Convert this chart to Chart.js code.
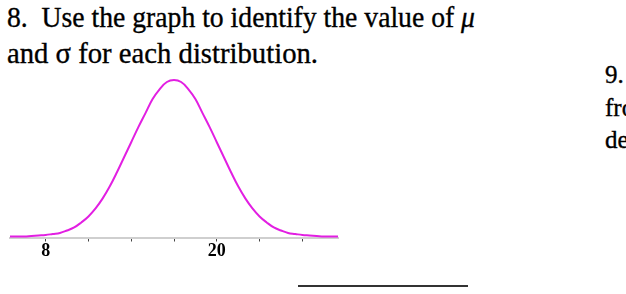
<!DOCTYPE html>
<html>
<head>
<meta charset="utf-8">
<script src="https://cdn.jsdelivr.net/npm/chart.js@4"></script>
<style>
  html, body { margin: 0; padding: 0; background: #fff; }
  body { width: 626px; height: 294px; overflow: hidden; position: relative; font-family: "Liberation Serif", serif; color: #000; }
  .txt { position: absolute; white-space: pre; transform-origin: 0 0; -webkit-text-stroke: 0.35px #000; }
  #plot { position: absolute; left: 0; top: 60px; }
  #rule { position: absolute; left: 298px; top: 285px; width: 170px; height: 2px; background: #333; }
</style>
</head>
<body>
<div class="txt" id="q8a">8.&nbsp; Use the graph to identify the value of <i>μ</i></div>
<div class="txt" id="q8b">and σ for each distribution.</div>
<div class="txt" id="q9a">9. Use</div>
<div class="txt" id="q9b">from</div>
<div class="txt" id="q9c">des</div>
<canvas id="plot" width="360" height="220"></canvas>
<div id="rule"></div>
<script>
// Curve (height above the axis, peak = 157)
const xValues = [5.5, 6, 6.5, 7, 7.5, 8, 8.5, 9, 9.5, 10, 10.5, 11, 11.5, 12, 12.5, 13, 13.5, 14, 14.5, 15, 15.5, 16, 16.5, 17,
                 17.5, 18, 18.5, 19, 19.5, 20, 20.5, 21, 21.5, 22, 22.5, 23, 23.5, 24, 24.5, 25, 25.5, 26, 26.5, 27, 27.5, 28, 28.5];
const heights = [1, 1, 1, 1.5, 2, 2.5, 3.5, 4.5, 7, 10, 15, 21, 29, 39, 51, 65, 80, 95, 110, 124, 138, 148, 155, 157,
                 155, 148, 138, 124, 110, 95, 80, 65, 51, 39, 29, 21, 15, 10, 7, 4.5, 3.5, 2.5, 2, 1.5, 1, 1, 1];
const tickValues = [8, 11, 14, 17, 20, 23, 26];
const tickLabels = ['8', '', '', '', '20', '', ''];

// place a text line: left, baseline, font size, target width
function place(id, left, baseline, size, width) {
    const el = document.getElementById(id);
    el.style.fontSize = size + 'px';
    el.style.lineHeight = size + 'px';
    el.style.left = left + 'px';
    el.style.top = (baseline - 0.891 * size - (size - 1.107 * size) / 2) + 'px';
    if (width) {
        const w = el.getBoundingClientRect().width;
        el.style.transform = 'scaleX(' + (width / w) + ')';
    }
}
place('q8a', 6.5, 26.7, 30, 468);
place('q8b', 6.5, 62.7, 30, 311);
place('q9a', 605, 83, 25);
place('q9b', 605, 115.5, 25);
place('q9c', 605, 148, 25);

new Chart("plot", {
    type: "line",
    data: {
        datasets: [{
            data: xValues.map((x, i) => ({ x: x, y: heights[i] })),
            borderColor: '#e21fe2',
            borderWidth: 2,
            pointRadius: 0,
            tension: 0.4,
            clip: false
        }]
    },
    options: {
        responsive: false,
        animation: false,
        layout: { padding: { left: 10, right: 22, top: 20, bottom: 0 } },
        plugins: {
            legend: { display: false },
            tooltip: { enabled: false }
        },
        scales: {
            x: {
                type: 'linear',
                min: 5.5,
                max: 28.5,
                afterBuildTicks: (axis) => { axis.ticks = tickValues.map(v => ({ value: v })); },
                afterFit: (scale) => { scale.height = 42.5; },
                ticks: {
                    autoSkip: false,
                    maxRotation: 0,
                    padding: -1,
                    color: '#000',
                    font: { family: 'Liberation Serif', size: 18, weight: 'bold' },
                    callback: (value) => tickLabels[tickValues.indexOf(value)]
                },
                grid: {
                    drawOnChartArea: false,
                    drawTicks: true,
                    tickLength: 4,
                    color: '#444'
                },
                border: { color: '#cfcfcf', width: 2 }
            },
            y: {
                display: false,
                min: 0,
                max: 157
            }
        }
    }
});
</script>
</body>
</html>
